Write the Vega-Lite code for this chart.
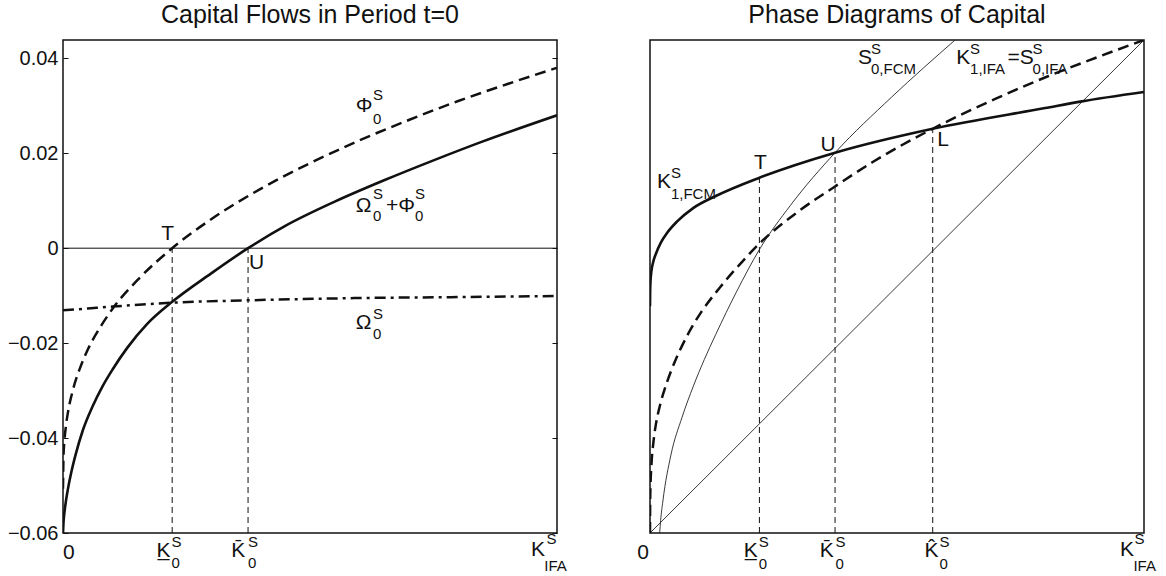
{
  "$schema": "https://vega.github.io/schema/vega-lite/v6.json",
  "padding": {"left": 6, "top": 2, "right": 0, "bottom": 0},
  "background": "white",
  "spacing": 93,
  "bounds": "flush",
  "config": {
    "view": {"stroke": "#111", "strokeWidth": 1.5},
    "title": {"font": "Liberation Sans", "fontSize": 25, "fontWeight": "normal", "color": "#111", "offset": 12, "anchor": "middle"},
    "text": {"font": "Liberation Sans", "color": "#111"},
    "axis": {"labelFont": "Liberation Sans"}
  },
  "datasets": {
    "zero": [{"y": 0}],
    "phi": [{"x":0,"y":-0.0507},{"x":0.001,"y":-0.0438},{"x":0.003,"y":-0.0404},{"x":0.006,"y":-0.0374},{"x":0.01,"y":-0.0346},{"x":0.02,"y":-0.0299},{"x":0.035,"y":-0.0251},{"x":0.05,"y":-0.0214},{"x":0.075,"y":-0.0167},{"x":0.1,"y":-0.0128},{"x":0.15,"y":-0.0068},{"x":0.221,"y":0},{"x":0.3,"y":0.0061},{"x":0.4,"y":0.0125},{"x":0.5,"y":0.0179},{"x":0.6,"y":0.0227},{"x":0.7,"y":0.027},{"x":0.8,"y":0.031},{"x":0.9,"y":0.0346},{"x":1,"y":0.038}],
    "sum": [{"x":0,"y":-0.06},{"x":0.001,"y":-0.0578},{"x":0.003,"y":-0.0556},{"x":0.006,"y":-0.0532},{"x":0.01,"y":-0.0507},{"x":0.0168,"y":-0.0472},{"x":0.025,"y":-0.0437},{"x":0.04,"y":-0.0384},{"x":0.06,"y":-0.0333},{"x":0.08,"y":-0.0291},{"x":0.1,"y":-0.0256},{"x":0.13,"y":-0.021},{"x":0.17,"y":-0.016},{"x":0.221,"y":-0.0113},{"x":0.3,"y":-0.0053},{"x":0.3746,"y":0},{"x":0.45,"y":0.0047},{"x":0.55,"y":0.0098},{"x":0.65,"y":0.0143},{"x":0.75,"y":0.0185},{"x":0.85,"y":0.0225},{"x":1,"y":0.028}],
    "omega": [{"x":0,"y":-0.0131},{"x":0.05,"y":-0.0127},{"x":0.1,"y":-0.0123},{"x":0.221,"y":-0.01148},{"x":0.3746,"y":-0.01098},{"x":0.6,"y":-0.0105},{"x":0.8,"y":-0.0103},{"x":1,"y":-0.01007}],
    "lv": [{"x":0.221,"y0":-0.06,"y1":0},{"x":0.3746,"y0":-0.06,"y1":0}],
    "ltext": [
      {"x":0.199,"y":0.003,"t":"T","r":"m"},
      {"x":0.3765,"y":-0.00322,"t":"U","r":"m"},
      {"x":0.5925,"y":0.02995,"t":"Φ","r":"m"},
      {"x":0.6277,"y":0.03223,"t":"S","r":"s"},
      {"x":0.6277,"y":0.02732,"t":"0","r":"s"},
      {"x":0.5925,"y":0.00889,"t":"Ω","r":"m"},
      {"x":0.6277,"y":0.01135,"t":"S","r":"s"},
      {"x":0.6277,"y":0.00678,"t":"0","r":"s"},
      {"x":0.6538,"y":0.00889,"t":"+Φ","r":"m"},
      {"x":0.7126,"y":0.01135,"t":"S","r":"s"},
      {"x":0.7126,"y":0.00678,"t":"0","r":"s"},
      {"x":0.5925,"y":-0.01586,"t":"Ω","r":"m"},
      {"x":0.6277,"y":-0.01386,"t":"S","r":"s"},
      {"x":0.6277,"y":-0.01814,"t":"0","r":"s"},
      {"x":0,"y":-0.0642,"t":"0","r":"m"},
      {"x":0.1893,"y":-0.06379,"t":"K\u0332","r":"m"},
      {"x":0.2196,"y":-0.06185,"t":"S","r":"s"},
      {"x":0.2196,"y":-0.06642,"t":"0","r":"s"},
      {"x":0.3407,"y":-0.06379,"t":"K\u0304","r":"m"},
      {"x":0.3745,"y":-0.06185,"t":"S","r":"s"},
      {"x":0.3745,"y":-0.06642,"t":"0","r":"s"},
      {"x":0.9474,"y":-0.06351,"t":"K","r":"m"},
      {"x":0.9787,"y":-0.06132,"t":"S","r":"s"},
      {"x":0.9743,"y":-0.06695,"t":"IFA","r":"s"}
    ],
    "k1fcm": [{"x":0,"y":0.46},{"x":0.0003,"y":0.49},{"x":0.001,"y":0.51},{"x":0.003,"y":0.532},{"x":0.0065,"y":0.55},{"x":0.0122,"y":0.567},{"x":0.022,"y":0.589},{"x":0.0348,"y":0.609},{"x":0.055,"y":0.632},{"x":0.0874,"y":0.659},{"x":0.1332,"y":0.6836},{"x":0.2215,"y":0.7207},{"x":0.3746,"y":0.7714},{"x":0.5723,"y":0.82},{"x":0.8,"y":0.862},{"x":0.871,"y":0.875},{"x":1,"y":0.8945}],
    "s0fcm": [{"x":0.0196,"y":0},{"x":0.0215,"y":0.025},{"x":0.0261,"y":0.065},{"x":0.0423,"y":0.158},{"x":0.065,"y":0.235},{"x":0.0878,"y":0.298},{"x":0.11,"y":0.352},{"x":0.1332,"y":0.403},{"x":0.175,"y":0.489},{"x":0.2215,"y":0.575},{"x":0.2846,"y":0.665},{"x":0.3746,"y":0.7714},{"x":0.4889,"y":0.884},{"x":0.6176,"y":1.0}],
    "k1ifa": [{"x":0,"y":0},{"x":0.0003,"y":0.06},{"x":0.001,"y":0.095},{"x":0.003,"y":0.14},{"x":0.007,"y":0.185},{"x":0.0122,"y":0.222},{"x":0.02,"y":0.258},{"x":0.0348,"y":0.307},{"x":0.05,"y":0.347},{"x":0.065,"y":0.38},{"x":0.085,"y":0.418},{"x":0.103,"y":0.447},{"x":0.1407,"y":0.497},{"x":0.18,"y":0.543},{"x":0.2215,"y":0.587},{"x":0.3,"y":0.652},{"x":0.3746,"y":0.703},{"x":0.45,"y":0.752},{"x":0.5723,"y":0.82},{"x":0.7,"y":0.881},{"x":0.807,"y":0.927},{"x":0.9,"y":0.963},{"x":1,"y":1}],
    "diag": [{"x":0,"y":0},{"x":1,"y":1}],
    "rv": [{"x":0.2215,"y0":0,"y1":0.7207},{"x":0.3746,"y0":0,"y1":0.7714},{"x":0.5723,"y0":0,"y1":0.82}],
    "rtext": [
      {"x":0.4209,"y":0.9641,"t":"S","r":"m"},
      {"x":0.4473,"y":0.9824,"t":"S","r":"s"},
      {"x":0.4473,"y":0.9406,"t":"0,FCM","r":"s"},
      {"x":0.6198,"y":0.9641,"t":"K","r":"m"},
      {"x":0.648,"y":0.9824,"t":"S","r":"s"},
      {"x":0.648,"y":0.9406,"t":"1,IFA","r":"s"},
      {"x":0.7235,"y":0.9641,"t":"=S","r":"m"},
      {"x":0.7745,"y":0.9824,"t":"S","r":"s"},
      {"x":0.7745,"y":0.9406,"t":"0,IFA","r":"s"},
      {"x":0.3451,"y":0.787,"t":"U","r":"m"},
      {"x":0.2103,"y":0.7495,"t":"T","r":"m"},
      {"x":0.5814,"y":0.7972,"t":"L","r":"m"},
      {"x":0.0144,"y":0.712,"t":"K","r":"m"},
      {"x":0.0423,"y":0.7308,"t":"S","r":"s"},
      {"x":0.0423,"y":0.687,"t":"1,FCM","r":"s"},
      {"x":-0.0259,"y":-0.0406,"t":"0","r":"m"},
      {"x":0.1899,"y":-0.0365,"t":"K\u0332","r":"m"},
      {"x":0.2202,"y":-0.0179,"t":"S","r":"s"},
      {"x":0.2202,"y":-0.0619,"t":"0","r":"s"},
      {"x":0.3435,"y":-0.0365,"t":"K\u0304","r":"m"},
      {"x":0.3755,"y":-0.0179,"t":"S","r":"s"},
      {"x":0.3755,"y":-0.0619,"t":"0","r":"s"},
      {"x":0.5555,"y":-0.0365,"t":"K\u0302","r":"m"},
      {"x":0.5858,"y":-0.0179,"t":"S","r":"s"},
      {"x":0.5858,"y":-0.0619,"t":"0","r":"s"},
      {"x":0.9512,"y":-0.0339,"t":"K","r":"m"},
      {"x":0.9808,"y":-0.0128,"t":"S","r":"s"},
      {"x":0.9785,"y":-0.0669,"t":"IFA","r":"s"}
    ]
  },
  "hconcat": [
    {
      "width": 494,
      "height": 493,
      "title": "Capital Flows in Period t=0",
      "resolve": {"axis": {"y": "independent"}},
      "layer": [
        {
          "data": {"name": "zero"},
          "mark": {"type": "rule", "color": "#111", "strokeWidth": 1},
          "encoding": {
            "y": {"field": "y", "type": "quantitative", "scale": {"domain": [-0.06, 0.04386], "nice": false, "zero": false},
              "axis": {"orient": "left", "values": [-0.06, -0.04, -0.02, 0, 0.02, 0.04], "labelExpr": "datum.value == 0 ? '0' : format(datum.value, '.2f')", "tickSize": -5, "labelPadding": 10, "domain": false, "grid": false, "title": null, "labelFontSize": 20, "labelColor": "#111", "tickColor": "#111", "tickWidth": 1, "labelFlush": false, "labelOverlap": false}}
          }
        },
        {
          "data": {"name": "lv"},
          "mark": {"type": "rule", "color": "#111", "strokeWidth": 1, "strokeDash": [6, 4]},
          "encoding": {
            "x": {"field": "x", "type": "quantitative", "scale": {"domain": [0, 1], "nice": false, "zero": false}, "axis": null},
            "y": {"field": "y0", "type": "quantitative", "axis": {"orient": "right", "values": [-0.06, -0.04, -0.02, 0, 0.02, 0.04], "labels": false, "tickSize": -5, "domain": false, "grid": false, "title": null, "tickColor": "#111", "tickWidth": 1}},
            "y2": {"field": "y1"}
          }
        },
        {
          "data": {"name": "omega"},
          "mark": {"type": "line", "color": "#111", "strokeWidth": 2.5, "strokeDash": [11, 5, 3, 5], "interpolate": "monotone", "clip": true},
          "encoding": {
            "x": {"field": "x", "type": "quantitative", "axis": null},
            "y": {"field": "y", "type": "quantitative", "axis": null}
          }
        },
        {
          "data": {"name": "phi"},
          "mark": {"type": "line", "color": "#111", "strokeWidth": 2.5, "strokeDash": [11, 6], "interpolate": "monotone", "clip": true},
          "encoding": {
            "x": {"field": "x", "type": "quantitative", "axis": null},
            "y": {"field": "y", "type": "quantitative", "axis": null}
          }
        },
        {
          "data": {"name": "sum"},
          "mark": {"type": "line", "color": "#111", "strokeWidth": 2.6, "interpolate": "monotone", "clip": true},
          "encoding": {
            "x": {"field": "x", "type": "quantitative", "axis": null},
            "y": {"field": "y", "type": "quantitative", "axis": null}
          }
        },
        {
          "data": {"name": "ltext"},
          "transform": [{"filter": "datum.r == 'm'"}],
          "mark": {"type": "text", "align": "left", "baseline": "middle", "fontSize": 21},
          "encoding": {
            "x": {"field": "x", "type": "quantitative", "axis": null},
            "y": {"field": "y", "type": "quantitative", "axis": null},
            "text": {"field": "t"}
          }
        },
        {
          "data": {"name": "ltext"},
          "transform": [{"filter": "datum.r == 's'"}],
          "mark": {"type": "text", "align": "left", "baseline": "middle", "fontSize": 15},
          "encoding": {
            "x": {"field": "x", "type": "quantitative", "axis": null},
            "y": {"field": "y", "type": "quantitative", "axis": null},
            "text": {"field": "t"}
          }
        }
      ]
    },
    {
      "width": 494,
      "height": 493,
      "title": "Phase Diagrams of Capital",
      "layer": [
        {
          "data": {"name": "diag"},
          "mark": {"type": "line", "color": "#222", "strokeWidth": 0.9, "clip": true},
          "encoding": {
            "x": {"field": "x", "type": "quantitative", "scale": {"domain": [0, 1], "nice": false, "zero": false}, "axis": null},
            "y": {"field": "y", "type": "quantitative", "scale": {"domain": [0, 1], "nice": false, "zero": false}, "axis": null}
          }
        },
        {
          "data": {"name": "rv"},
          "mark": {"type": "rule", "color": "#111", "strokeWidth": 1, "strokeDash": [6, 4]},
          "encoding": {
            "x": {"field": "x", "type": "quantitative", "axis": null},
            "y": {"field": "y0", "type": "quantitative", "axis": null},
            "y2": {"field": "y1"}
          }
        },
        {
          "data": {"name": "s0fcm"},
          "mark": {"type": "line", "color": "#222", "strokeWidth": 0.9, "interpolate": "monotone", "clip": true},
          "encoding": {
            "x": {"field": "x", "type": "quantitative", "axis": null},
            "y": {"field": "y", "type": "quantitative", "axis": null}
          }
        },
        {
          "data": {"name": "k1ifa"},
          "mark": {"type": "line", "color": "#111", "strokeWidth": 2.5, "strokeDash": [11, 6], "interpolate": "monotone", "clip": true},
          "encoding": {
            "x": {"field": "x", "type": "quantitative", "axis": null},
            "y": {"field": "y", "type": "quantitative", "axis": null}
          }
        },
        {
          "data": {"name": "k1fcm"},
          "mark": {"type": "line", "color": "#111", "strokeWidth": 2.6, "interpolate": "monotone", "clip": true},
          "encoding": {
            "x": {"field": "x", "type": "quantitative", "axis": null},
            "y": {"field": "y", "type": "quantitative", "axis": null}
          }
        },
        {
          "data": {"name": "rtext"},
          "transform": [{"filter": "datum.r == 'm'"}],
          "mark": {"type": "text", "align": "left", "baseline": "middle", "fontSize": 21},
          "encoding": {
            "x": {"field": "x", "type": "quantitative", "axis": null},
            "y": {"field": "y", "type": "quantitative", "axis": null},
            "text": {"field": "t"}
          }
        },
        {
          "data": {"name": "rtext"},
          "transform": [{"filter": "datum.r == 's'"}],
          "mark": {"type": "text", "align": "left", "baseline": "middle", "fontSize": 15},
          "encoding": {
            "x": {"field": "x", "type": "quantitative", "axis": null},
            "y": {"field": "y", "type": "quantitative", "axis": null},
            "text": {"field": "t"}
          }
        }
      ]
    }
  ]
}
